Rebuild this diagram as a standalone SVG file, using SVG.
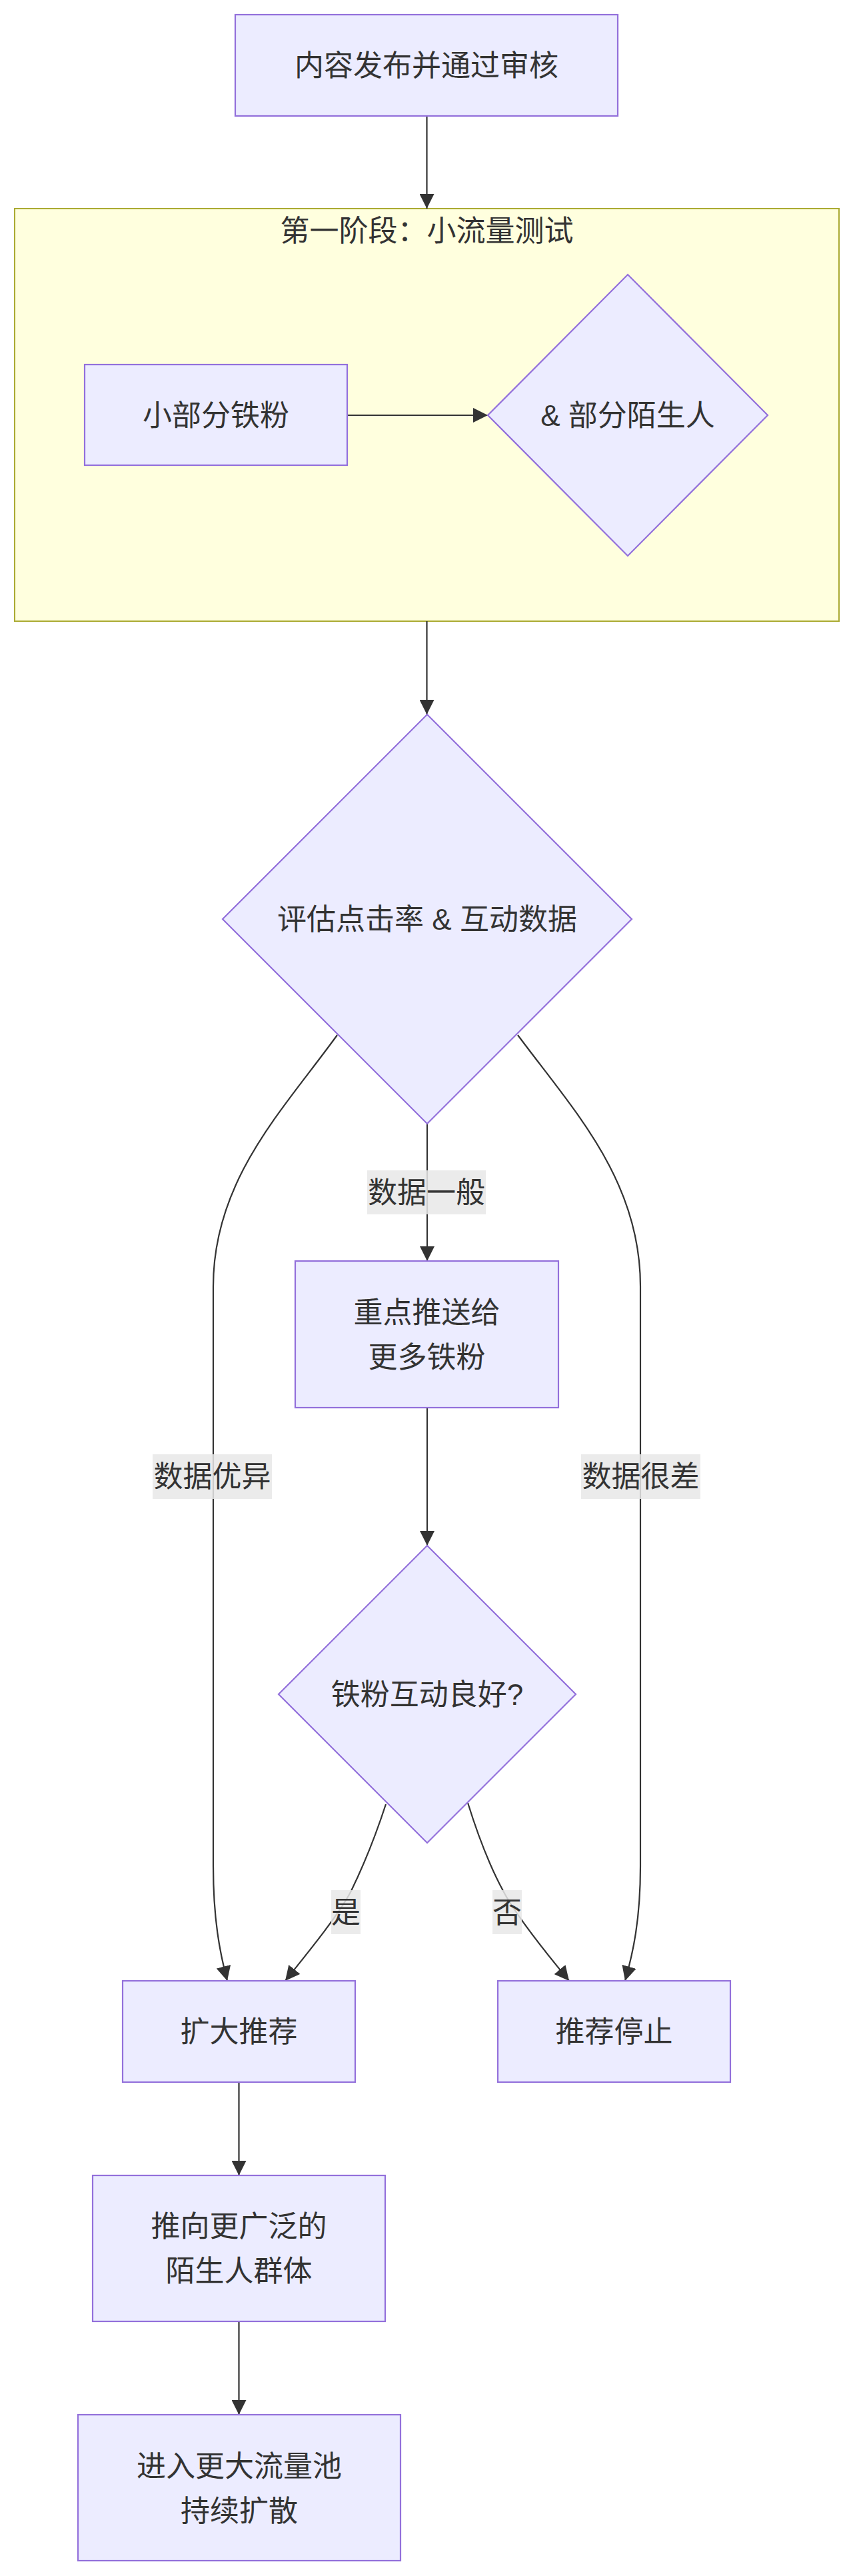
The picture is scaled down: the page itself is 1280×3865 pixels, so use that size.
<svg xmlns="http://www.w3.org/2000/svg" width="1280" height="3865" viewBox="0 0 1280 3865">
<style>
.node{fill:#ECECFF;stroke:#9370DB;stroke-width:2.2}
.cluster{fill:#FFFFDE;stroke:#AAAA33;stroke-width:2}
.edge{fill:none;stroke:#333333;stroke-width:2.2}
.lbl{fill:#E8E8E8;fill-opacity:0.85}
text{font-family:"Liberation Sans","Noto Sans CJK SC",sans-serif;font-size:44px;fill:#333333;text-anchor:middle;dominant-baseline:central}
</style>
<defs>
<marker id="arrow" viewBox="0 0 10 10" refX="10" refY="5" markerUnits="userSpaceOnUse" markerWidth="22" markerHeight="22" orient="auto">
<path d="M0,0 L10,5 L0,10 z" fill="#333333"/>
</marker>
</defs>
<rect width="1280" height="3865" fill="#ffffff"/>
<g id="cluster-stage1">
<rect class="cluster" x="22" y="313" width="1237" height="619"/>
<text x="640.5" y="346">第一阶段：小流量测试</text>
</g>
<g id="edges">
<path class="edge" d="M640.5,174 L640.5,313" marker-end="url(#arrow)"/>
<path class="edge" d="M521,623 L732,623" marker-end="url(#arrow)"/>
<path class="edge" d="M640.5,932 L640.5,1072" marker-end="url(#arrow)"/>
<path class="edge" d="M641,1686 L641,1892" marker-end="url(#arrow)"/>
<path class="edge" d="M641,2112 L641,2319" marker-end="url(#arrow)"/>
<path class="edge" d="M506,1553 C425,1665 320,1770 320,1930 L320,2800 C320,2880 330,2930 341,2972" marker-end="url(#arrow)"/>
<path class="edge" d="M777,1553 C860,1665 961,1770 961,1930 L961,2800 C961,2880 950,2930 938,2972" marker-end="url(#arrow)"/>
<path class="edge" d="M579,2707 C565,2750 545,2800 527,2837 C510,2870 470,2920 428,2972" marker-end="url(#arrow)"/>
<path class="edge" d="M702,2705 C716,2750 735,2800 755,2837 C772,2870 815,2925 854,2972" marker-end="url(#arrow)"/>
<path class="edge" d="M358.5,3124 L358.5,3264" marker-end="url(#arrow)"/>
<path class="edge" d="M358.5,3483 L358.5,3623" marker-end="url(#arrow)"/>
</g>
<g id="edge-labels">
<g id="label-normal"><rect class="lbl" x="551" y="1756" width="178" height="66"/><text x="640" y="1789">数据一般</text></g>
<g id="label-good"><rect class="lbl" x="229" y="2182" width="179" height="67"/><text x="318.5" y="2215.5">数据优异</text></g>
<g id="label-bad"><rect class="lbl" x="872" y="2182" width="179" height="67"/><text x="961.5" y="2215.5">数据很差</text></g>
<g id="label-yes"><rect class="lbl" x="497" y="2836" width="44" height="66"/><text x="519" y="2869">是</text></g>
<g id="label-no"><rect class="lbl" x="739" y="2836" width="44" height="66"/><text x="761" y="2869">否</text></g>
</g>
<g id="node-publish">
<rect class="node" x="353" y="22" width="574" height="152"/>
<text x="640" y="98">内容发布并通过审核</text>
</g>
<g id="node-fans">
<rect class="node" x="127" y="547" width="394" height="151"/>
<text x="324" y="623">小部分铁粉</text>
</g>
<g id="node-strangers">
<polygon class="node" points="942,412 1152,623 942,834 732,623"/>
<text x="942" y="623">&amp; 部分陌生人</text>
</g>
<g id="node-evaluate">
<polygon class="node" points="641,1072 948,1379 641,1686 334,1379"/>
<text x="641" y="1379">评估点击率 &amp; 互动数据</text>
</g>
<g id="node-push-fans">
<rect class="node" x="443" y="1892" width="395" height="220"/>
<text x="640.5" y="1969">重点推送给</text>
<text x="640.5" y="2036">更多铁粉</text>
</g>
<g id="node-fans-check">
<polygon class="node" points="641,2319 864,2542 641,2765 418,2542"/>
<text x="641" y="2542">铁粉互动良好?</text>
</g>
<g id="node-expand">
<rect class="node" x="184" y="2972" width="349" height="152"/>
<text x="358.5" y="3048">扩大推荐</text>
</g>
<g id="node-stop">
<rect class="node" x="747" y="2972" width="349" height="152"/>
<text x="921.5" y="3048">推荐停止</text>
</g>
<g id="node-wider">
<rect class="node" x="139" y="3264" width="439" height="219"/>
<text x="358.5" y="3340">推向更广泛的</text>
<text x="358.5" y="3407">陌生人群体</text>
</g>
<g id="node-pool">
<rect class="node" x="117" y="3623" width="484" height="219"/>
<text x="359" y="3700">进入更大流量池</text>
<text x="359" y="3767">持续扩散</text>
</g>
</svg>
